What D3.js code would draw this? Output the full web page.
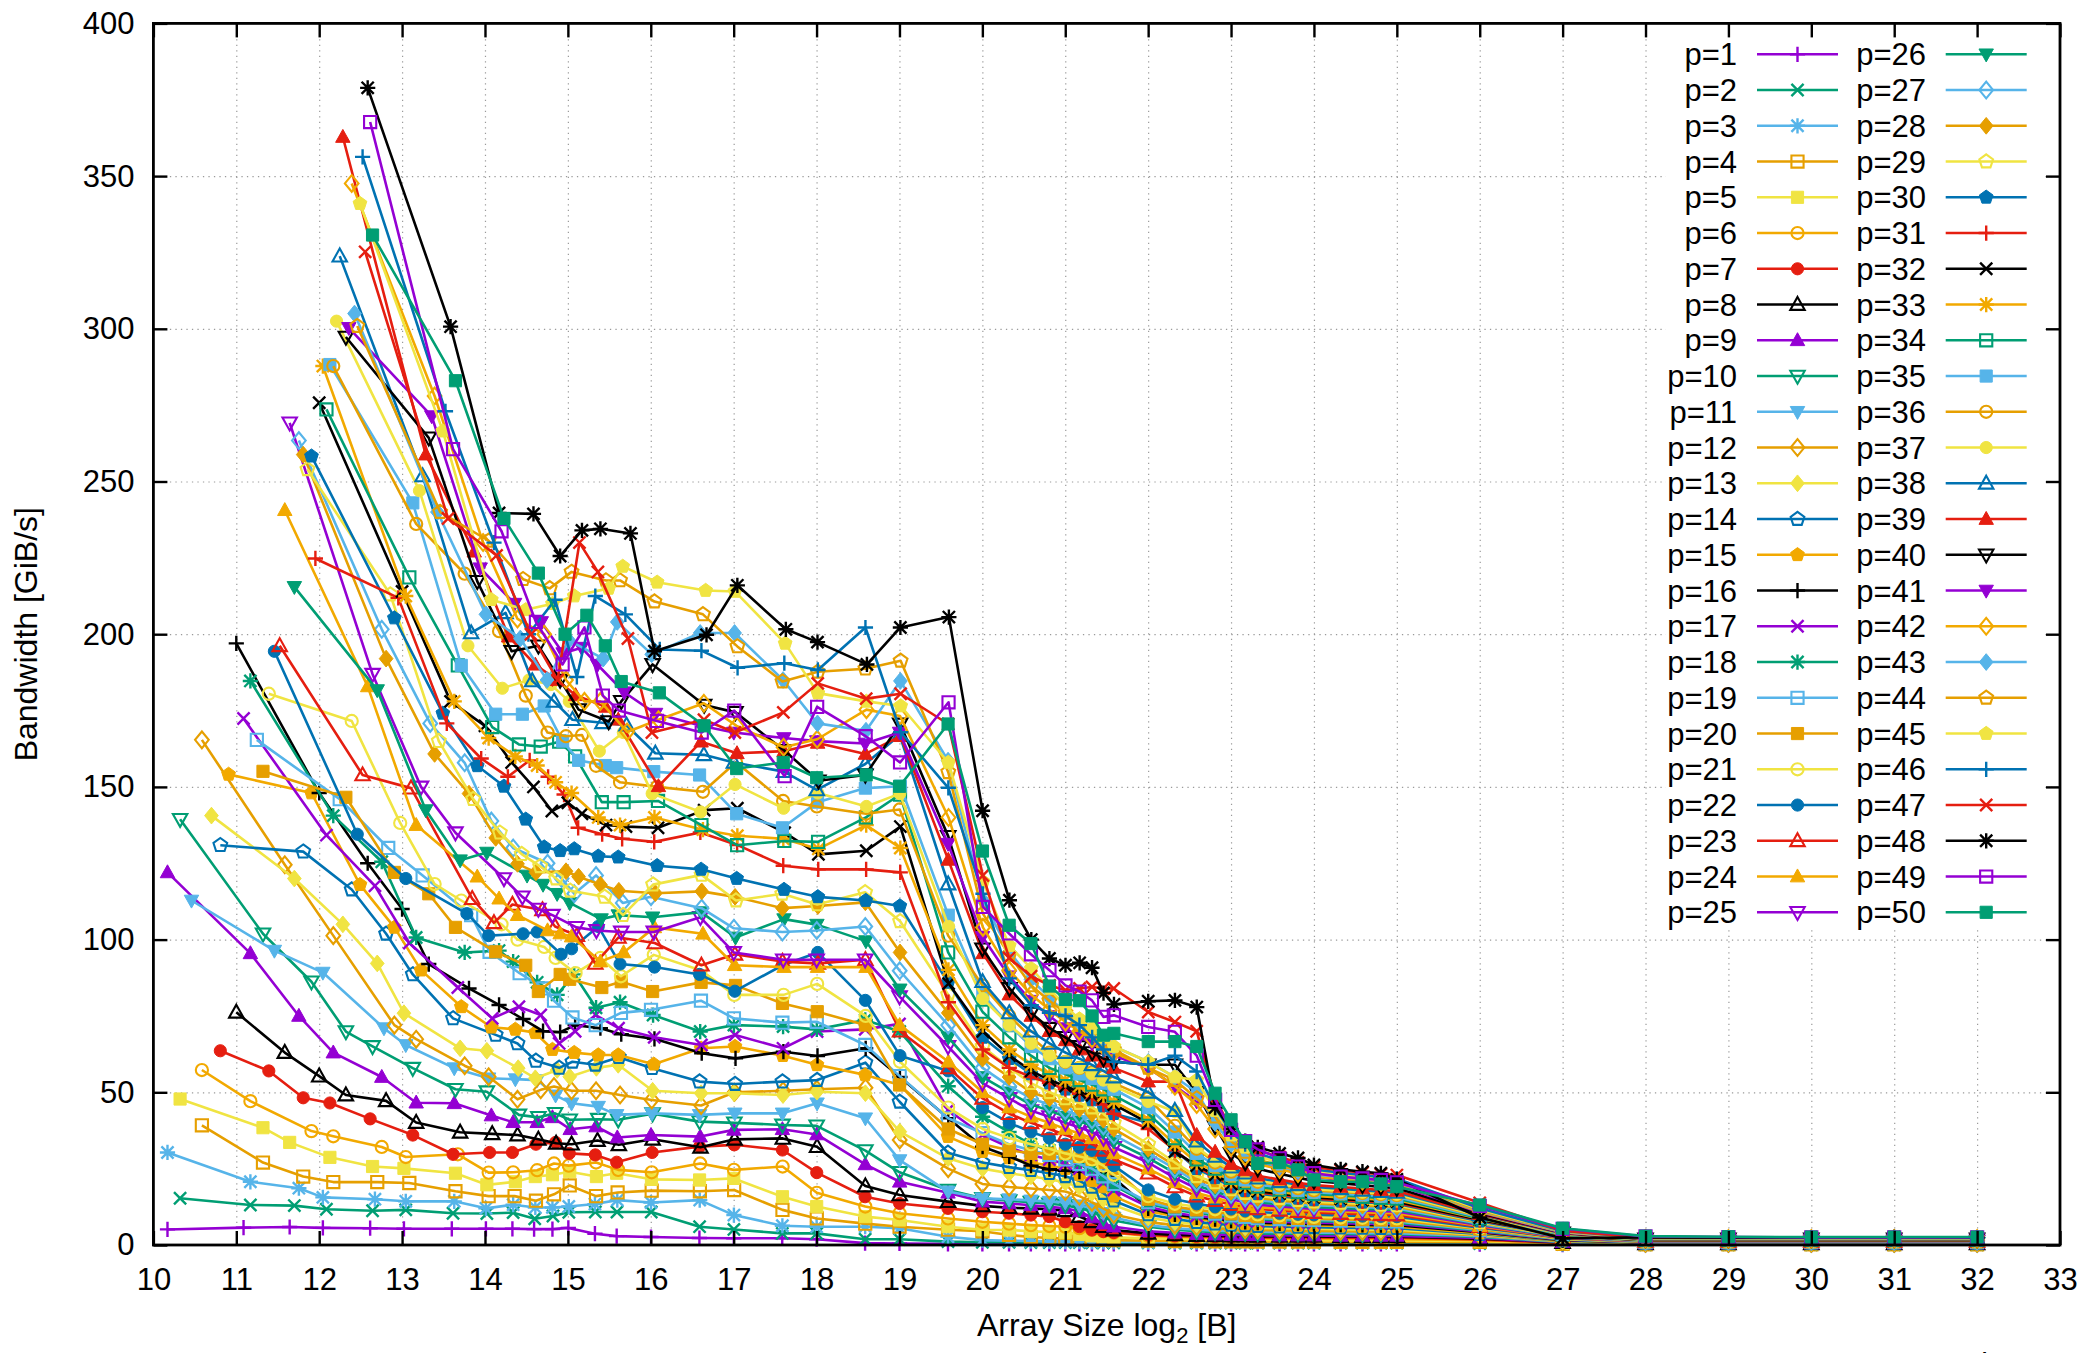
<!DOCTYPE html>
<html><head><meta charset="utf-8">
<script src="https://cdn.jsdelivr.net/npm/d3@7"></script>
<style>body{margin:0;background:#fff}text{font-family:"Liberation Sans",Arial,Helvetica,sans-serif}</style>
</head><body><svg id="c" width="2090" height="1353"></svg>
<script>
const _ = null;
// array sizes in bytes (base grid); each series rounds up to a multiple of p*128 bytes
const baseSizes = [1024,2048,3072,4096,6144,8192,12288,16384,20480,24576,28672,32768,40960,49152,65536,98304,
 131072,196608,262144,393216,524288,786432,1048576,1310720,1572864,1835008,
 2097152,2359296,2621440,2883584,3145728,4194304,5242880,6291456,7340032,
 8388608,9437184,10485760,12582912,14680064,16777216,20971520,25165824,29360128,33554432,
 67108864,134217728,268435456,536870912,1073741824,2147483648,4294967296];
const xTickLabels = [10,11,12,13,14,15,16,17,18,19,20,21,22,23,24,25,26,27,28,29,30,31,32,33];
const yTickLabels = [0,50,100,150,200,250,300,350,400];
const seriesNames = d3.range(1,51).map(p=>"p="+p);

const p01=[5.1,5.7,5.9,5.6,5.5,5.3,5.3,5.3,5.3,5.2,5.2,5.6,3.7,2.9,2.6,2.3, 2.2,2.2,1.9,0.6,0.5,0.4,0.4,0.4,0.4,0.4, 0.4,0.4,0.4,0.4,0.4,0.4,0.4,0.4,0.4, 0.4,0.4,0.4,0.4,0.4,0.4,0.4,0.4,0.4,0.4, 0.3,0.15,0.1,0.1,0.1,0.1,0.1];
const p02=[15.3,13.1,12.9,11.7,11.2,11.5,10.4,10.3,10.6,8.6,9.5,10.7,10.8,10.8,10.8,6.0, 5.1,3.8,3.8,1.9,1.9,1.1,0.9,0.9,0.8,0.8, 0.8,0.8,0.7,0.7,0.7,0.7,0.6,0.6,0.6, 0.6,0.6,0.6,0.6,0.6,0.6,0.6,0.6,0.6,0.6, 0.5,0.2,0.1,0.1,0.1,0.1,0.1];
const p03=[30.3,20.7,18.6,15.6,15.0,14.3,14.3,12.0,13.2,12.3,12.3,12.6,13.4,14.7,13.9,14.7, 9.8,6.3,6.0,6.0,5.5,2.7,1.6,1.4,1.3,1.2, 1.1,1.1,1.0,1.0,1.0,0.9,0.9,0.9,0.9, 0.9,0.9,0.9,0.9,0.9,0.9,0.9,0.9,0.9,0.9, 0.8,0.3,0.15,0.15,0.15,0.15,0.15];
const p04=[39.2,27.0,22.4,20.6,20.6,20.3,17.6,16.0,16.0,14.5,16.6,19.5,16.0,17.2,17.8,17.6, 18.0,11.5,8.7,7.0,6.0,5.0,4.5,3.3,2.6,2.3, 2.1,1.9,1.8,1.7,1.6,1.4,1.3,1.3,1.2, 1.2,1.2,1.1,1.1,1.1,1.1,1.0,1.0,1.0,1.0, 1.0,0.4,0.2,0.2,0.2,0.2,0.2];
const p05=[47.8,38.4,33.6,28.7,25.7,25.1,23.5,19.7,20.7,22.4,23.0,24.0,22.4,23.5,21.5,21.3, 21.8,15.8,12.6,9.3,8.2,6.0,5.0,4.9,4.5,4.2, 4.0,3.5,3.0,2.7,2.5,2.2,2.0,1.9,1.8, 1.8,1.7,1.7,1.6,1.6,1.6,1.5,1.5,1.5,1.5, 1.3,0.5,0.25,0.25,0.25,0.25,0.25];
const p06=[57.3,47.1,37.3,35.6,32.1,28.8,29.7,23.7,23.8,24.5,26.7,26.0,27.0,24.6,23.8,26.7, 24.6,25.7,17.1,12.6,10.4,8.7,7.6,7.0,6.5,6.2, 6.0,5.5,5.0,4.5,4.0,3.0,2.7,2.5,2.4, 2.3,2.2,2.2,2.1,2.1,2.0,2.0,2.0,2.0,1.9, 1.6,0.6,0.3,0.3,0.3,0.3,0.3];
const p07=[63.6,57.0,48.2,46.5,41.3,36.0,29.7,30.3,30.3,33.0,33.6,30.0,29.5,27.1,30.3,32.2, 32.8,31.1,23.7,15.8,13.6,12.0,10.9,10.4,9.8,9.3, 7.6,6.0,4.9,4.4,4.1,3.3,3.0,2.8,2.7, 2.6,2.6,2.5,2.5,2.5,2.5,2.4,2.4,2.4,2.4, 1.8,0.7,0.35,0.35,0.35,0.35,0.35];
const p08=[76.2,63.0,55.3,49.1,47.2,40.1,36.9,36.4,36.0,34.6,33.3,33.0,34.2,32.8,34.6,32.0, 34.6,34.9,32.2,19.3,16.4,14.2,12.8,12.2,12.0,11.7, 11.2,9.3,7.6,6.0,4.9,3.8,3.3,3.1,3.0, 2.9,2.9,2.8,2.8,2.8,2.8,2.7,2.7,2.7,2.7, 2.1,0.8,0.4,0.4,0.4,0.4,0.4];
const p09=[122,95.5,75,63,55,46.6,46.4,42.4,40.2,40.2,41.8,37.9,38.8,35.2,36.0,35.5, 37.7,37.9,36.2,26.4,20.7,17.1,14.2,13.6,13.0,12.5, 12.0,11.0,9.0,7.0,6.0,4.5,4.0,3.6,3.4, 3.3,3.2,3.2,3.1,3.1,3.1,3.0,3.0,3.0,3.0, 2.3,0.9,0.45,0.45,0.45,0.45,0.45];
const p10=[139.4,101.9,86.2,69.9,65,57.9,51,50.2,42.6,41.8,43.1,41,41.2,41,43,40.4, 40.0,39.3,39.0,30.9,23.8,18.0,15.3,14.5,14.0,13.5, 13.0,12.0,11.0,9.0,8.0,6.0,5.0,4.5,4.2, 4.0,3.9,3.8,3.7,3.7,3.6,3.6,3.5,3.5,3.5, 2.6,1.0,0.5,0.5,0.5,0.5,0.5];
const p11=[112.8,96.4,89.2,_,71,65.5,57.9,54.6,54.3,54,49,46.4,45.3,42.6,43.1,42.6, 43.1,43.1,46.4,41.5,27.8,17.5,15.3,15.0,14.6,14.2, 14.0,13.0,12.0,10.5,9.0,6.5,5.5,5.0,4.7, 4.5,4.4,4.3,4.2,4.1,4.0,4.0,3.9,3.9,3.9, 2.9,1.1,0.55,0.55,0.55,0.55,0.55];
const p12=[165.4,124.5,101.3,_,72,67.4,58.7,55.1,47.7,50.8,51.9,50.5,50.5,49.1,47.5,45.7, 50,50.5,51,51.5,34.4,25,20,19,18.5,18, 17.5,16,14,12,10,7.5,6.5,6.0,5.5, 5.2,5.0,4.9,4.8,4.7,4.6,4.5,4.4,4.4,4.4, 3.1,1.2,0.6,0.6,0.6,0.6,0.6];
const p13=[140.6,120,_,105,92.2,75.9,64.4,63.6,57.9,54.6,57.3,55.1,58,59,50.5,49.7, 49.7,49.1,50.2,49.7,37.1,28.4,25,23.5,22.5,21.5, 20.5,19,17,15,13,9,7.5,6.8,6.3, 6.0,5.8,5.6,5.5,5.4,5.3,5.2,5.1,5.0,5.0, 3.4,1.3,0.65,0.65,0.65,0.65,0.65];
const p14=[130.9,128.8,_,116.4,101.9,88.6,74.2,68.8,66,60.3,58,60,59,61.5,57.9,53.5, 52.7,53.5,54,59.7,46.9,30.2,27,25.5,24.5,23.5, 22.5,21,19,17,14.5,10,8.5,7.5,7, 6.6,6.4,6.2,6.0,5.9,5.8,5.7,5.6,5.5,5.5, 3.6,1.4,0.7,0.7,0.7,0.7,0.7];
const p15=[154.1,148,_,118,104,90,78,71.3,70.6,69.5,64,63,62.2,62.2,59.2,64.4, 65,62,59,55.7,52.4,35.5,30.6,28.5,27,26, 25,23,21,19,16,11,9.5,8.5,7.8, 7.3,7.0,6.8,6.6,6.5,6.4,6.2,6.1,6.0,6.0, 3.9,1.5,0.75,0.75,0.75,0.75,0.75];
const p16=[197,148,_,125,110,92,84,78.6,74,70,69.7,72,71,69,67.5,62.8, 61.1,63.3,61.9,64.4,55,41.5,32.2,29,26,24.8, 24.3,24,23.7,23.5,22,12,10,9,8.5, 8,7.6,7.3,7.1,7.0,6.9,6.7,6.6,6.5,6.5, 4.2,1.6,0.8,0.8,0.8,0.8,0.8];
const p17=[172.4,_,134.2,_,117.6,98.9,84.3,74.2,78,75.3,66,70,75.3,71,68,65.5, 68.8,64.4,69.9,70.6,72.4,44.2,36,32,29.5,28, 26.5,25,23,20.5,18,12.5,10.5,9.5,9, 8.5,8.1,7.8,7.6,7.4,7.3,7.1,7.0,6.9,6.9, 4.4,1.7,0.85,0.85,0.85,0.85,0.85];
const p18=[184.7,_,140.6,_,125.5,100.7,95.8,96.4,92.8,86,81.9,88.6,77.7,79.5,75.3,69.9, 72,71.5,70.6,73.7,69.9,52,42,37,33,31, 29,27,25,22,19.5,13.5,11.5,10.5,9.8, 9.2,8.7,8.4,8.1,7.9,7.8,7.6,7.5,7.4,7.3, 4.7,1.8,0.9,0.9,0.9,0.9,0.9];
const p19=[165.4,_,146,_,130,121,108,96,89,84,80,74.5,72,76,77,80, 74.2,72.8,73.1,65.5,55.3,41.5,36.6,33,31,29.5, 28,26.5,25,22.5,20,14,12,11,10.3, 9.7,9.2,8.8,8.5,8.3,8.2,8.0,7.9,7.8,7.7, 4.9,1.9,0.95,0.95,0.95,0.95,0.95];
const p20=[155.1,_,146.6,_,122,115,104,96,91.6,83,88.6,87,84.3,86.2,83,86, 85,79.1,76.4,72,52.4,38,33,31,30,30, 30,29,28,27,25,15,12.5,11.5,10.8, 10.2,9.7,9.3,9.0,8.7,8.6,8.4,8.3,8.2,8.1, 5.2,2.0,1.0,1.0,1.0,1.0,1.0];
const p21=[180.5,_,171.6,_,138.2,118.2,112.8,105,100,97.6,94,89,94,88,95,90, 81.9,81.9,85.5,75,60,45,38,35,33,31.5, 30,29,28,26,23,16,13.5,12.5,11.7, 11,10.4,10,9.7,9.4,9.2,9.0,8.9,8.8,8.7, 5.5,2.1,1.05,1.05,1.05,1.05,1.05];
const p22=[194.4,_,134.5,_,120,_,108.5,101.3,101.9,102.5,95.2,97,104.3,92,91,88.6, 83.1,91.6,95.8,80.1,62,57,45,40,37,35, 33,32,31,29,26,18,15,13.5,12.5, 11.8,11.2,10.8,10.4,10.1,9.9,9.7,9.5,9.4,9.3, 5.7,2.2,1.1,1.1,1.1,1.1,1.1];
const p23=[196.2,_,153.9,_,149.6,_,113.4,105.5,111.5,109.7,104.3,101.3,92.2,100.7,98.9,91.6, 95.2,92.8,92.2,93.4,70,58,48,43,40,38, 36,34.5,33,31,28,23.5,19,16,14.5, 13.2,12.4,11.8,11.3,10.9,10.6,10.3,10.1,9.9,9.8, 6.0,2.3,1.15,1.15,1.15,1.15,1.15];
const p24=[240.6,_,182.9,_,137.5,_,120.6,113.4,108,103,102,101,92.8,95.8,104,101.9, 91.6,91,91,91,72,60,50,45,42,40, 38,36.5,35,33,30,25,20.5,17,15.5, 14,13.1,12.4,11.9,11.5,11.2,10.9,10.7,10.5,10.4, 6.2,2.4,1.2,1.2,1.2,1.2,1.2];
const p25=[269.2,_,_,186.9,_,150,135,120,114,110,108,104,103,102.5,102.5,107.3, 95.8,93.4,93.4,93.4,81.3,65,53,48,44,42, 40,38.5,37,35,32,27,22,18.5,16.5, 15,14,13.2,12.6,12.2,11.8,11.5,11.3,11.1,11, 6.5,2.5,1.25,1.25,1.25,1.25,1.25];
const p26=[215.5,_,_,181.7,_,142.4,126,128.5,121,118,115,112,106.7,108,107.3,109, 100.7,106.7,104.9,99.5,83.7,68,55,50,46,44, 42,40.5,39,37,34,28.5,23.5,19.5,17.5, 15.8,14.8,14,13.3,12.8,12.4,12.1,11.8,11.6,11.5, 6.8,2.6,1.3,1.3,1.3,1.3,1.3];
const p27=[263.4,_,_,201.6,_,170.8,157.9,138.8,130,125,120,115,121,112,114,110.3, 103.7,102.5,103,104.3,89.8,72,58,52,48,46, 44,42.5,41,39,36,30,25,20.5,18.5, 16.6,15.5,14.7,14,13.4,13,12.7,12.4,12.2,12, 7.0,2.7,1.35,1.35,1.35,1.35,1.35];
const p28=[258.8,_,_,192,_,160.8,147.8,133.3,124.8,122,122.4,120.6,118,116,115.2,115.8, 114,110.3,111,112.2,95.8,76,61,55,50,48, 46,44.5,43,41,38,31.5,26,21.5,19.5, 17.4,16.2,15.4,14.6,14,13.6,13.2,12.9,12.7,12.5, 7.3,2.8,1.4,1.4,1.4,1.4,1.4];
const p29=[254,_,_,213,_,165,146,135,128,124,120,116,114,108,118,121.2, 112.8,115,111.5,115.5,106,82,65,58,53,50, 48,46.5,45,43,40,33,27,22.5,20.5, 18.2,17,16.1,15.3,14.7,14.2,13.8,13.5,13.2,13, 7.5,2.9,1.45,1.45,1.45,1.45,1.45];
const p30=[258.3,_,_,205.3,_,174.1,156.9,150.2,139.4,130.3,129.1,129.7,127.3,127,124.2,123, 120,116.4,114,112.8,111,86,68,61,56,53, 51,49,47.5,45.5,43,40,31,25,22, 19,17.8,16.8,16,15.3,14.8,14.4,14,13.7,13.5, 7.8,3.0,1.5,1.5,1.5,1.5,1.5];
const p31=[224.8,_,_,211.9,_,170.8,159.3,153.3,158.7,153.3,147.5,136.6,134.5,133,132,135.1, 131,124.2,123,123,122,79.5,64,58,55,53, 51,49.5,48,46,43,38,31,25.5,22.5, 19.5,18.2,17.2,16.4,15.7,15.2,14.7,14.3,14,13.8, 8.1,3.1,1.55,1.55,1.55,1.55,1.55];
const p32=[275.8,_,_,214,_,178,170,158,150,142.1,144.8,141.2,137.5,137,136.6,142.4, 143,135,127.9,129.1,137,85.6,70,62,57,54, 52,50,49,48,46,40,30.6,26,23, 20,18.7,17.6,16.8,16.1,15.6,15.1,14.7,14.4,14.2, 8.3,3.2,1.6,1.6,1.6,1.6,1.6];
const p33=[287.8,_,_,_,212.5,_,178,166,160,157,151.5,148,140,137.5,140,136, 134,133,129.7,137.5,130,90.1,72,64,59,56, 54,52,50.5,49,47,41,33,27,24, 21,19.5,18.3,17.4,16.6,16.1,15.6,15.2,14.9,14.7, 8.6,3.3,1.65,1.65,1.65,1.65,1.65];
const p34=[273.6,_,_,_,218.6,_,189.8,169.6,163.9,163.2,164.8,160,145,145,145.4,137.5, 130.9,132.3,132,140,147.5,95.8,76.4,68,62,58, 56,54,52.5,51,49,43,35,28,25, 22,20.4,19.1,18.1,17.3,16.7,16.2,15.8,15.4,15.2, 8.8,3.4,1.7,1.7,1.7,1.7,1.7];
const p35=[288.3,_,_,_,243,_,189.8,173.8,173.8,176.5,165,158.7,157,156.3,155,153.9, 141.2,136.6,145,149.6,150.2,108,82,72,65,61, 58,56,54.5,53,51,45,37,30,26, 23,21.3,19.9,18.8,17.9,17.3,16.8,16.4,16,15.7, 9.1,3.5,1.75,1.75,1.75,1.75,1.75];
const p36=[287.8,_,_,_,236.1,_,219.8,201,179.9,167.8,166.6,167,156.9,151.5,150,148.4, 158.1,145.4,143.6,141.2,142.6,101.3,85,75,68,63, 60,58,56.5,55,53,48,39,31.5,27, 24,22.2,20.7,19.5,18.6,17.9,17.4,17,16.6,16.3, 9.4,3.6,1.8,1.8,1.8,1.8,1.8];
const p37=[302.5,_,_,_,247,_,196.2,182.3,185,183.5,178,_,161.7,167.8,147.8,141.8, 150.8,143,148,143.6,147.8,104.3,80.7,72,66,62, 60,58,56,54,52,47,43.7,32,27.5, 24.5,22.6,21.1,19.9,19,18.3,17.8,17.3,16.9,16.6, 9.6,3.7,1.85,1.85,1.85,1.85,1.85];
const p38=[323.8,_,_,_,251.8,_,200.4,207,184.7,178,_,172,171,170.2,161,160.5, 158,155,149,157.5,167,118.2,86.2,76,70,66, 63,61,59,57,55,50,44,34,29, 25.5,23.5,21.9,20.7,19.7,19,18.4,17.9,17.5,17.2, 9.9,3.8,1.9,1.9,1.9,1.9,1.9];
const p39=[362.8,_,_,_,258.8,_,227,199.2,190,_,185,180,176.2,172,150.2,164.8, 161,161.7,164.4,160.8,166.6,126.1,95.5,82,75,70, 67,64,62,60,58,53.5,53.5,36,30.5, 26.5,24.4,22.7,21.4,20.4,19.6,19,18.5,18,17.7, 10.1,3.9,1.95,1.95,1.95,1.95,1.95];
const p40=[297.3,_,_,_,264.3,_,217.3,194.4,196.2,_,185,175.3,171.4,178,190.1,176.8, 174.4,162,152,153.9,170.6,133.8,97,84,76,71, 68,65,63,61,60,59,59,50,38.8, 30,27,25,23.3,22,21,20.2,19.6,19,18.6, 10.4,4.0,2.0,2.0,2.0,2.0,2.0];
const p41=[300.3,_,_,_,271.4,_,221.6,210,_,204,193.8,195.6,190,181,174,170, 167.8,166,165,164.2,167.8,131.4,100.9,88,80,75, 71,68,66,64,62,58,52,47,43, 35,30,27,25,23.5,22.3,21.4,20.7,20.1,19.6, 10.7,4.1,2.05,2.05,2.05,2.05,2.05];
const p42=[347.6,_,_,_,278,_,230,205,_,200,185,178,178,168,172,177.4, 170,163,165.6,175.3,173.2,140,104,90,82,77, 73,70,67.5,65,63,58,52,46,38, 32,29,26.5,24.8,23.4,22.4,21.6,21,20.5,20.1, 10.9,4.2,2.1,2.1,2.1,2.1,2.1];
const p43=[305,_,_,_,240,_,206.5,_,198.6,185,198,_,192,204,193.4,200.4, 200.4,185,170.8,168.4,184.7,158.6,113,96,87,81, 76,73,70,67.5,65,60,55,50,40, 33,30,27.5,25.6,24.2,23.1,22.3,21.6,21,20.6, 11.2,4.3,2.15,2.15,2.15,2.15,2.15];
const p44=[300.9,_,_,_,240,_,230.6,_,218,215,220.4,_,217.6,217.6,210.7,206.5, 196,184.5,187.7,188.7,191.3,154.8,108.5,95,85,80, 76,72,70,67,64,58,54,48,42, 34,30.5,28,26,24.5,23.4,22.6,21.9,21.3,20.9, 11.4,4.4,2.2,2.2,2.2,2.2,2.2];
const p45=[341,_,_,_,266.5,_,211.3,_,208,210,_,212.5,215,222.2,217,214.3, 214,197,180.7,178,176.5,158,119,98,90.5,84, 78,74,71,68,65,60,55,54,44, 36,32,29,27,25.3,24,23.1,22.3,21.7,21.2, 11.7,4.5,2.25,2.25,2.25,2.25,2.25];
const p46=[356.3,_,_,_,273,_,230,_,200,211.3,_,186,212.5,206.5,195,194.6, 189,190.5,188.3,202.2,167.9,149.7,115,87.3,78.5,76, 75,72,68,64,60,59,62,56.8,45, 37,33,30,27.8,26,24.7,23.7,22.9,22.2,21.7, 12,4.6,2.3,2.3,2.3,2.3,2.3];
const p47=[325.2,_,_,_,237.9,_,225.8,_,200,185,_,230,220.4,198.6,167.8,172, 167.8,174.4,183.9,178.9,180.5,170.6,121,94,88,85, 83.4,84,84.5,84,84,76.3,73,70,48, 38,34,31,28.8,27,25.5,24.5,23.7,23.2,22.9, 13.8,4.7,2.4,2.4,2.4,2.4,2.4];
const p48=[378.9,_,_,_,300.7,_,239.7,_,239.4,225.6,_,234,234.5,233,194.4,199.8, 216,201.6,197.4,190.1,202.2,205.6,142.2,112.9,100,93.8, 91.6,92.4,90.8,82.5,78.8,79.8,80.1,77.9,45, 38,34,32,30,28.5,26.2,24.8,24,23.5,21.5, 9,2.2,2.5,2.4,2.4,2.5,2.4];
const p49=[367.7,_,_,_,_,260.6,_,233.7,204,_,190.1,202.2,179.9,175,171.6,167.8, 175,153.5,176.2,166.6,158,177.7,110.7,102,95.2,90, 85,83,80.1,74.7,75.2,71.4,69.8,62,47.5, 37.7,34,31.3,28.4,25.7,23.5,22.4,21.8,21.3,20.5, 12.8,5.3,2.8,2.6,2.5,2.5,2.5];
const p50=[330.7,_,_,_,_,283,_,237.9,220,_,200,206.2,196.2,184.5,180.8,170, 156,158,153,153.9,150.2,170.6,129,104.7,98.7,84.8, 80.4,80,75,68.7,69.3,66.6,66.6,65,49.7, 41,33.8,26.7,27,24.6,21.3,20.7,20.7,20,19.1, 13.1,5.5,2.9,2.7,2.6,2.6,2.6];

const seriesValues=[p01,p02,p03,p04,p05,p06,p07,p08,p09,p10,p11,p12,p13,p14,p15,p16,p17,p18,p19,p20,p21,p22,p23,p24,p25,
 p26,p27,p28,p29,p30,p31,p32,p33,p34,p35,p36,p37,p38,p39,p40,p41,p42,p43,p44,p45,p46,p47,p48,p49,p50];

// ---------- styles ----------
const palette8=["#9400D3","#009E73","#56B4E9","#E69F00","#F0E442","#0072B2","#E51E10","#000000"];
const gold="#F2A900";
function colorOf(p){ return (p%9===6)?gold:palette8[(p-1)%8]; }
function markerOf(p){ return (p-1)%15; }

const W=2090,H=1353;
const L=153.4,R=2060,T=23.4,B=1245;
const FONT='"Liberation Sans",Arial,sans-serif';
const x=d3.scaleLinear().domain([10,33]).range([L,R]);
const y=d3.scaleLinear().domain([0,400]).range([B,T]);
const svg=d3.select("#c");
svg.append("rect").attr("width",W).attr("height",H).attr("fill","#fff");

// grid (dotted)
const gridX=svg.append("g").attr("transform",`translate(0,${B})`)
 .call(d3.axisBottom(x).tickValues(xTickLabels.filter(v=>v>10&&v<33)).tickSize(-(B-T)).tickFormat(""));
const gridY=svg.append("g").attr("transform",`translate(${L},0)`)
 .call(d3.axisLeft(y).tickValues(yTickLabels.filter(v=>v>0&&v<400)).tickSize(-(R-L)).tickFormat(""));
[gridX,gridY].forEach(g=>{g.select(".domain").remove();
 g.selectAll("line").attr("stroke","#9a9a9a").attr("stroke-width",1.2).attr("stroke-dasharray","1.3,4.2");});

// point computations
function seriesPoints(p,vals){
  const chunk=128*p; const pts=[]; let lastX=null;
  baseSizes.forEach((b,i)=>{
    const size=(Math.floor(b/chunk)+1)*chunk;
    const lx=Math.log2(size);
    if(lastX!==null && Math.abs(lx-lastX)<1e-9){
      if(pts.length && pts[pts.length-1].y==null && vals[i]!=null) pts[pts.length-1].y=vals[i];
      return;
    }
    lastX=lx; pts.push({x:lx,y:vals[i]});
  });
  return pts.filter(d=>d.y!=null);
}

// marker shapes
function markerPath(t,s){
  const a=s*0.8;
  switch(t){
    case 0: return `M${-s},0H${s}M0,${-s}V${s}`;
    case 1: return `M${-a},${-a}L${a},${a}M${-a},${a}L${a},${-a}`;
    case 2: return `M${-s},0H${s}M0,${-s}V${s}M${-a},${-a}L${a},${a}M${-a},${a}L${a},${-a}`;
    case 3: case 4: return `M${-a},${-a}H${a}V${a}H${-a}Z`;
    case 5: case 6: return d3.arc()({innerRadius:0,outerRadius:a,startAngle:0,endAngle:2*Math.PI});
    case 7: case 8: return `M0,${-s}L${s*0.95},${s*0.7}L${-s*0.95},${s*0.7}Z`;
    case 9: case 10: return `M0,${s}L${s*0.95},${-s*0.7}L${-s*0.95},${-s*0.7}Z`;
    case 11: case 12: return `M0,${-s*1.1}L${s*0.9},0L0,${s*1.1}L${-s*0.9},0Z`;
    default: {
      const r=s*0.95; let d="";
      for(let k=0;k<5;k++){const ang=-Math.PI/2+k*2*Math.PI/5; d+=(k?"L":"M")+(r*Math.cos(ang)).toFixed(2)+","+(r*Math.sin(ang)).toFixed(2);}
      return d+"Z";
    }
  }
}
const filledTypes=new Set([4,6,8,10,12,14]);
const strokeOnly=new Set([0,1,2]);
function drawMarker(g,p,cx,cy){
  const t=markerOf(p), c=colorOf(p);
  const el=g.append("path").attr("d",markerPath(t,7.6)).attr("transform",`translate(${cx},${cy})`);
  if(filledTypes.has(t)) el.attr("fill",c).attr("stroke",c).attr("stroke-width",1);
  else el.attr("fill","none").attr("stroke",c).attr("stroke-width",strokeOnly.has(t)?2.4:2.1);
}

// data
const line=d3.line().x(d=>x(d.x)).y(d=>y(d.y));
const gData=svg.append("g");
seriesValues.forEach((vals,i)=>{
  const p=i+1; const pts=seriesPoints(p,vals);
  const g=gData.append("g");
  g.append("path").datum(pts).attr("d",line).attr("fill","none").attr("stroke",colorOf(p)).attr("stroke-width",2.6).attr("stroke-linejoin","round");
  pts.forEach(d=>drawMarker(g,p,x(d.x),y(d.y)));
});

// legend (opaque)
const gLeg=svg.append("g");
gLeg.append("rect").attr("x",1666).attr("y",36).attr("width",378).attr("height",894).attr("fill","#fff");
const rowY0=54.3, rowH=35.75;
seriesNames.forEach((name,i)=>{
  const p=i+1, col=i<25?0:1, row=i%25;
  const cy=rowY0+row*rowH;
  const tx=col?1926:1737, lx0=col?1945.7:1757, lx1=col?2026.7:1838;
  gLeg.append("text").attr("x",tx).attr("y",cy+11).attr("text-anchor","end").attr("font-size",31).attr("fill","#000").text(name);
  gLeg.append("line").attr("x1",lx0).attr("x2",lx1).attr("y1",cy).attr("y2",cy).attr("stroke",colorOf(p)).attr("stroke-width",2.6);
  drawMarker(gLeg,p,(lx0+lx1)/2,cy);
});

// axes with inward ticks on all four sides
const tick=14;
const axB=svg.append("g").attr("transform",`translate(0,${B})`).call(d3.axisBottom(x).tickValues(xTickLabels).tickSize(-tick).tickPadding(23).tickSizeOuter(0));
const axT=svg.append("g").attr("transform",`translate(0,${T})`).call(d3.axisTop(x).tickValues(xTickLabels).tickSize(-tick).tickFormat("").tickSizeOuter(0));
const axL=svg.append("g").attr("transform",`translate(${L},0)`).call(d3.axisLeft(y).tickValues(yTickLabels).tickSize(-tick).tickPadding(19).tickSizeOuter(0));
const axR=svg.append("g").attr("transform",`translate(${R},0)`).call(d3.axisRight(y).tickValues(yTickLabels).tickSize(-tick).tickFormat("").tickSizeOuter(0));
[axB,axT,axL,axR].forEach(g=>{g.select(".domain").remove();
  g.selectAll("line").attr("stroke","#000").attr("stroke-width",2.4);
  g.selectAll("text").attr("fill","#000").attr("font-size",31).attr("font-family",FONT);});
svg.append("rect").attr("x",L).attr("y",T).attr("width",R-L).attr("height",B-T).attr("fill","none").attr("stroke","#000").attr("stroke-width",2.8);

// titles
svg.append("text").attr("transform",`translate(37,${(T+B)/2}) rotate(-90)`).attr("text-anchor","middle").attr("font-size",32).attr("fill","#000").text("Bandwidth [GiB/s]");
const xt=svg.append("text").attr("x",(L+R)/2).attr("y",1336).attr("text-anchor","middle").attr("font-size",32).attr("fill","#000");
xt.append("tspan").text("Array Size log");
xt.append("tspan").attr("font-size",22).attr("dy",7).text("2");
xt.append("tspan").attr("dy",-7).text(" [B]");
// label at the bottom edge, mostly outside the picture as in the reference
svg.append("text").attr("x",2088).attr("y",1374).attr("text-anchor","end").attr("font-size",30).attr("fill","#000").text("l 0.0.0.0");
</script></body></html>
